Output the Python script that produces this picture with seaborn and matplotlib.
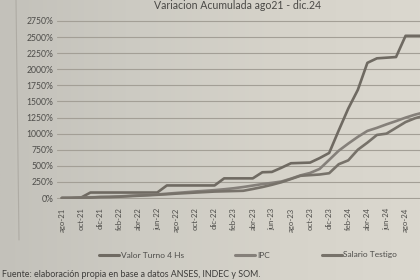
import numpy as np
import pandas as pd
import matplotlib
matplotlib.use("Agg")
import matplotlib.pyplot as plt
import seaborn as sns
from matplotlib.colors import LinearSegmentedColormap
from matplotlib.ticker import FuncFormatter
from matplotlib.lines import Line2D

# ---------------- data ----------------
meses = ["ago-21", "sep-21", "oct-21", "nov-21", "dic-21",
         "ene-22", "feb-22", "mar-22", "abr-22", "may-22", "jun-22",
         "jul-22", "ago-22", "sep-22", "oct-22", "nov-22", "dic-22",
         "ene-23", "feb-23", "mar-23", "abr-23", "may-23", "jun-23",
         "jul-23", "ago-23", "sep-23", "oct-23", "nov-23", "dic-23",
         "ene-24", "feb-24", "mar-24", "abr-24", "may-24", "jun-24",
         "jul-24", "ago-24", "sep-24", "oct-24", "nov-24", "dic-24"]

turno = [0, 0, 5, 85, 85, 85, 85, 85, 85, 85, 85,
         195, 195, 195, 195, 195, 195,
         305, 305, 305, 305, 400, 405, 470, 540, 545, 550, 620, 700,
         1050, 1390, 1680, 2100, 2170, 2180, 2190, 2520, 2520, 2520, 2520, 2520]

ipc = [0, 3.5, 7.2, 9.9, 14.1, 18.6, 24.2, 32.5, 40.5, 47.6, 55.4,
       66.9, 78.5, 89.5, 101.5, 111.5, 122.3, 135.7, 151.3, 170.6, 193.3,
       216.1, 235.0, 256.2, 300.5, 351.6, 389.1, 451.7, 592.2,
       734.9, 845.5, 949.6, 1042.3, 1090.0, 1144.5, 1194.6, 1248.6,
       1295.4, 1333.0, 1367.8, 1407.4]

salario = [0, 0, 6, 6, 15, 15, 20, 28, 35, 42, 50,
           58, 68, 76, 84, 92, 100, 104, 108, 112, 140,
           170, 205, 245, 295, 345, 355, 365, 385,
           525, 585, 750, 860, 980, 1000, 1090, 1180,
           1240, 1280, 1320, 1360]

series_names = ["Valor Turno 4 Hs", "IPC", "Salario Testigo"]
yticks = list(range(0, 2751, 250))
titulo = "Variacion Acumulada ago21 - dic.24"
fuente = "Fuente: elaboración propia en base a datos ANSES, INDEC y SOM."

# ---------------- style ----------------
sns.set_theme(style="white")
plt.rcParams['font.family'] = ['Lato', 'DejaVu Sans']

W, H = 420, 280
fig = plt.figure(figsize=(W / 100, H / 100), dpi=100)
fig.patch.set_facecolor('#d5d2c9')

# photo-like background shading
bg = fig.add_axes([0, 0, 1, 1], zorder=-10)
grad = np.linspace(0, 1, 256)[None, :]
cmap = LinearSegmentedColormap.from_list(
    'g', ['#c3c1ba', '#cdcbc3', '#d6d3ca', '#dbd8cf'])
bg.imshow(grad, cmap=cmap, aspect='auto', extent=[0, 1, 0, 1])
bg.set_axis_off()

# axes geometry (pixels); the plot runs past the right edge like the photo
px_month = 9.55
L = 57
R = L + 41 * px_month
y0_px, ytop_px = 198, 21
ymin, ymax = -20, 2770
k = (y0_px - ytop_px) / 2750.0
B = H - (y0_px + (0 - ymin) * k)
T = H - (ytop_px - (ymax - 2750) * k)
ax = fig.add_axes([L / W, B / H, (R - L) / W, (T - B) / H])
ax.set_facecolor('none')

df = pd.DataFrame({"idx": np.arange(len(meses)), "mes": meses,
                   series_names[0]: turno, series_names[1]: ipc,
                   series_names[2]: salario})
long = df.melt(id_vars=["idx", "mes"], value_vars=series_names,
               var_name="serie", value_name="valor")

palette = {series_names[0]: '#6f6a62', series_names[1]: '#85807a',
           series_names[2]: '#77726a'}
sns.lineplot(data=long, x="idx", y="valor", hue="serie",
             hue_order=series_names, palette=palette, linewidth=1.9,
             ax=ax, legend=False)

ax.set_xlim(-0.5, 40.5)
ax.set_ylim(ymin, ymax)
ax.set_yticks(yticks)
ax.yaxis.set_major_formatter(FuncFormatter(lambda v, p: f"{v:.0f}%"))
# only the tick labels that fit inside the visible picture
tick_idx = np.arange(0, 37, 2)
ax.set_xticks(tick_idx)
ax.set_xticklabels([meses[i] for i in tick_idx], rotation=90)
ax.set_xlabel("")
ax.set_ylabel("")
ax.grid(axis='y', color='#a39f96', linewidth=0.8)
ax.grid(axis='x', visible=False)
for s in ax.spines.values():
    s.set_visible(False)
ax.tick_params(axis='y', length=0, pad=2.5, labelsize=6.2, labelcolor='#4e4d4a')
ax.tick_params(axis='x', length=0, pad=6, labelsize=5.6, labelcolor='#4e4d4a')

# title
fig.text(238 / W, (H - 9) / H, titulo, ha='center', va='baseline',
         fontsize=7.6, color='#4a4946')

# legend
handles = [Line2D([0], [0], color=palette[n], lw=2.2) for n in series_names]
fig.legend(handles, series_names, loc='center',
           bbox_to_anchor=(248 / W, 25 / H), ncol=3, frameon=False,
           fontsize=6, handlelength=2.4, columnspacing=6.2,
           handletextpad=0.2, labelcolor='#4e4d4a')

# source footer
fig.text(2 / W, 3 / H, fuente, ha='left', va='baseline', fontsize=6.4,
         color='#3d3c3a')

# faint page edge
fig.add_artist(Line2D([16 / W, 19 / W], [1.0, 40 / H], color='#aeaba4',
                      lw=0.8, transform=fig.transFigure))

fig.savefig("out.png", dpi=100)
